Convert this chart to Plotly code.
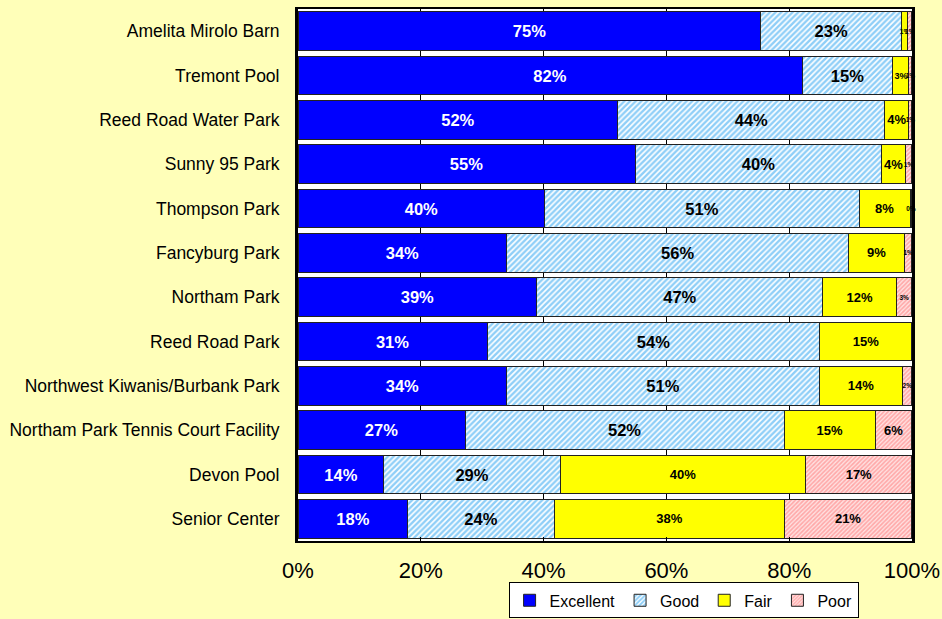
import plotly.graph_objects as go

categories = [
    "Amelita Mirolo Barn", "Tremont Pool", "Reed Road Water Park", "Sunny 95 Park",
    "Thompson Park", "Fancyburg Park", "Northam Park", "Reed Road Park",
    "Northwest Kiwanis/Burbank Park", "Northam Park Tennis Court Facility",
    "Devon Pool", "Senior Center",
]
excellent = [75.4, 82.1, 52.1, 54.9, 40.2, 34.0, 38.9, 30.8, 34.0, 27.2, 14.0, 17.9]
good = [22.9, 14.8, 43.5, 40.2, 51.2, 55.7, 46.6, 54.2, 50.9, 52.0, 28.7, 23.8]
fair = [1.0, 2.6, 3.9, 3.8, 8.3, 9.1, 12.0, 15.0, 13.6, 14.8, 40.0, 37.6]
poor = [0.7, 0.5, 0.5, 1.1, 0.3, 1.2, 2.5, 0.0, 1.5, 6.0, 17.3, 20.6]
x_ticks = [0, 20, 40, 60, 80, 100]
x_tick_labels = ["0%", "20%", "40%", "60%", "80%", "100%"]

FONT = "Arial, 'Liberation Sans', sans-serif"


def labels(vals):
    return [f"{int(v + 0.5)}%" if v > 0 else None for v in vals]


def small_sizes(vals, base):
    # narrow segments get a small label that may overflow the segment
    out = []
    for v in vals:
        if v >= 3.5:
            out.append(base)
        elif v >= 2.0:
            out.append(9)
        else:
            out.append(6.5)
    return out


series = [
    ("Excellent", excellent, dict(color="#0000FF"), "white", 16.5, "inside"),
    ("Good", good, dict(color="white", pattern=dict(shape="/", fgcolor="#1E9EF0", bgcolor="#FFFFFF", size=4, solidity=0.6)), "black", 16.5, "inside"),
    ("Fair", fair, dict(color="#FFFF00"), "black", small_sizes(fair, 13), "none"),
    ("Poor", poor, dict(color="white", pattern=dict(shape="/", fgcolor="#FF6E6E", bgcolor="#FFE2E2", size=3, solidity=0.55)), "black", [13 if v >= 5 else 6.5 for v in poor], "none"),
]

fig = go.Figure()
for name, vals, marker, tcolor, tsize, constrain in series:
    marker = dict(marker)
    marker["line"] = dict(color="#222222", width=1)
    fig.add_trace(go.Bar(
        name=name, y=categories, x=vals, orientation="h", marker=marker,
        text=labels(vals), textposition="inside", insidetextanchor="middle",
        textangle=0, constraintext=constrain, cliponaxis=False,
        textfont=dict(family=FONT, color=tcolor, size=tsize, weight="bold"),
        hoverinfo="x+y+name",
    ))

fig.update_layout(
    barmode="stack",
    bargap=0.13,
    width=942, height=619,
    margin=dict(l=298, r=30, t=9, b=78, autoexpand=False),
    paper_bgcolor="#FFFFB9",
    plot_bgcolor="#FFFFFF",
    font=dict(family=FONT, color="black"),
    legend=dict(
        orientation="h", x=0.628, xanchor="center",
        yref="container", y=0.001, yanchor="bottom",
        bgcolor="white", bordercolor="black", borderwidth=1,
        font=dict(family=FONT, size=16, color="black"),
        traceorder="normal", itemwidth=30,
    ),
    xaxis=dict(
        range=[0, 100.001], tickvals=x_ticks, ticktext=x_tick_labels,
        tickfont=dict(family=FONT, size=22, color="black"),
        showgrid=True, gridcolor="black", gridwidth=1,
        showline=True, linecolor="black", linewidth=2, mirror=True,
        ticks="inside", ticklen=4, tickcolor="black", ticklabelstandoff=9,
        zeroline=False, fixedrange=True, automargin=False,
    ),
    yaxis=dict(
        autorange="reversed", tickfont=dict(family=FONT, size=17.5, color="black"),
        showline=True, linecolor="black", linewidth=3, mirror=True,
        ticks="", ticklabelstandoff=12, automargin=False,
    ),
)

fig.write_html(
    "out.html",
    config={"displayModeBar": False},
    post_script="document.body.style.margin='0';document.body.style.overflow='hidden';",
)
